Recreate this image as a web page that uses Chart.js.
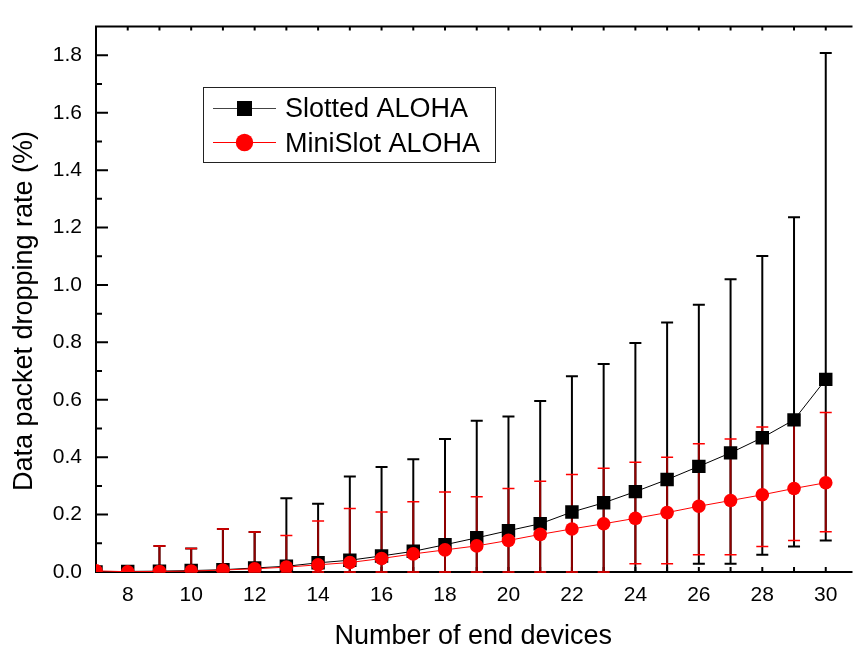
<!DOCTYPE html>
<html>
<head>
<meta charset="utf-8">
<script src="https://cdn.jsdelivr.net/npm/chart.js@4.4.1/dist/chart.umd.min.js"></script>
<style>
  html, body { margin: 0; padding: 0; background: #fff; }
  #wrap { width: 857px; height: 651px; overflow: hidden; }
  canvas { display: block; }
</style>
</head>
<body>
<div id="wrap"><canvas id="chart" width="860" height="651"></canvas></div>
<script>
// ---- data ----
const devices = [7, 8, 9, 10, 11, 12, 13, 14, 15, 16, 17, 18, 19, 20, 21, 22, 23, 24, 25, 26, 27, 28, 29, 30];

const slottedMean = [0.0, 0.002, 0.003, 0.005, 0.008, 0.014, 0.02, 0.032, 0.041, 0.056, 0.072, 0.095,
  0.119, 0.144, 0.168, 0.209, 0.241, 0.280, 0.322, 0.368, 0.415, 0.468, 0.530, 0.671];
const slottedHigh = [null, null, 0.091, 0.082, 0.150, 0.139, 0.257, 0.238, 0.333, 0.366, 0.393, 0.463,
  0.527, 0.542, 0.596, 0.682, 0.725, 0.798, 0.869, 0.931, 1.020, 1.101, 1.236, 1.808];
const slottedLow = [null, null, 0, 0, 0, 0, 0, 0, 0, 0, 0, 0,
  0, 0, 0, 0, 0, 0, 0, 0.029, 0.029, 0.060, 0.089, 0.110];

const miniMean = [0.004, 0.001, 0.002, 0.003, 0.007, 0.011, 0.017, 0.025, 0.033, 0.047, 0.063, 0.077,
  0.091, 0.110, 0.131, 0.150, 0.168, 0.187, 0.207, 0.229, 0.249, 0.269, 0.291, 0.311];
const miniHigh = [null, null, 0.091, 0.082, 0.150, 0.139, 0.127, 0.178, 0.221, 0.209, 0.245, 0.279,
  0.262, 0.291, 0.316, 0.340, 0.361, 0.382, 0.400, 0.447, 0.463, 0.505, 0.525, 0.556];
const miniLow = [null, null, 0, 0, 0, 0, 0, 0, 0, 0, 0, 0,
  0, 0, 0, 0, 0, 0.029, 0.029, 0.060, 0.060, 0.089, 0.110, 0.140];

const xTicks = [8, 10, 12, 14, 16, 18, 20, 22, 24, 26, 28, 30];
const yTicks = [0, 0.2, 0.4, 0.6, 0.8, 1.0, 1.2, 1.4, 1.6, 1.8];
const seriesNames = ['Slotted ALOHA', 'MiniSlot ALOHA'];
const yTitle = 'Data packet dropping rate (%)';
const xTitle = 'Number of end devices';

const FONT = "'Liberation Sans', Arial, sans-serif";
Chart.defaults.font.family = FONT;
Chart.defaults.color = '#000';

// frame + inward ticks, drawn before the data
const frame = {
  id: 'frame',
  beforeDatasetsDraw(chart) {
    const { ctx, chartArea: a, scales: { x, y } } = chart;
    ctx.save();
    ctx.strokeStyle = '#000';
    ctx.lineWidth = 2;
    ctx.beginPath();
    ctx.moveTo(a.left, a.top); ctx.lineTo(a.right + 2, a.top);
    ctx.moveTo(a.left, a.top - 1); ctx.lineTo(a.left, a.bottom + 1);
    ctx.moveTo(a.left - 1, a.bottom); ctx.lineTo(a.right + 2, a.bottom);
    // y ticks: major every 0.2, minor every 0.1
    for (let k = 1; k <= 18; k++) {
      const py = y.getPixelForValue(k / 10);
      const len = k % 2 === 0 ? 12 : 6;
      ctx.moveTo(a.left, py); ctx.lineTo(a.left + len, py);
    }
    // x ticks top and bottom, every device count
    for (let v = 8; v <= 30; v++) {
      const px = x.getPixelForValue(v);
      ctx.moveTo(px, a.bottom); ctx.lineTo(px, a.bottom - 5);
      ctx.moveTo(px, a.top); ctx.lineTo(px, a.top + 4);
    }
    ctx.stroke();
    ctx.restore();
  }
};

// asymmetric error bars taken from low/high arrays on each dataset
const errorBars = {
  id: 'errorBars',
  beforeDatasetsDraw(chart) {
    const { ctx, scales: { x, y } } = chart;
    ctx.save();
    ['slotted', 'mini'].forEach(key => {
      const ds = chart.data.datasets.find(d => d.key === key);
      ds.low.forEach((lo, i) => {
        const hi = ds.high[i];
        if (lo == null || hi == null) return;
        const px = x.getPixelForValue(devices[i]);
        const y1 = y.getPixelForValue(lo);
        const y2 = y.getPixelForValue(hi);
        ctx.strokeStyle = ds.stemColor;
        ctx.lineWidth = 2;
        ctx.beginPath();
        ctx.moveTo(px, y1); ctx.lineTo(px, y2);
        ctx.stroke();
        ctx.strokeStyle = ds.capColor;
        ctx.lineWidth = ds.capWidth;
        ctx.beginPath();
        ctx.moveTo(px - 6, y1); ctx.lineTo(px + 6, y1);
        ctx.moveTo(px - 6, y2); ctx.lineTo(px + 6, y2);
        ctx.stroke();
      });
    });
    ctx.restore();
  }
};

// rotated y title and boxed legend
const decor = {
  id: 'decor',
  afterDraw(chart) {
    const { ctx } = chart;
    ctx.save();
    ctx.fillStyle = '#000';
    ctx.font = '27px ' + FONT;
    ctx.translate(32, 311);
    ctx.rotate(-Math.PI / 2);
    ctx.textAlign = 'center';
    ctx.textBaseline = 'alphabetic';
    ctx.fillText(yTitle, 0, 0);
    ctx.restore();

    ctx.save();
    ctx.strokeStyle = '#222';
    ctx.lineWidth = 1;
    ctx.strokeRect(203.5, 87.5, 292, 75);
    // entry 1
    ctx.strokeStyle = '#444';
    ctx.beginPath(); ctx.moveTo(213, 108.5); ctx.lineTo(276, 108.5); ctx.stroke();
    ctx.fillStyle = '#000';
    ctx.fillRect(237, 101, 15, 15);
    // entry 2
    ctx.strokeStyle = '#ff0000';
    ctx.beginPath(); ctx.moveTo(213, 142.5); ctx.lineTo(276, 142.5); ctx.stroke();
    ctx.fillStyle = '#ff0000';
    ctx.beginPath(); ctx.arc(244.5, 142.5, 8.7, 0, Math.PI * 2); ctx.fill();
    ctx.fillStyle = '#000';
    ctx.font = '27px ' + FONT;
    ctx.textAlign = 'left';
    ctx.textBaseline = 'alphabetic';
    ctx.fillText(seriesNames[0], 285, 116.5);
    ctx.fillText(seriesNames[1], 285, 151.5);
    ctx.restore();
  }
};

new Chart(document.getElementById('chart'), {
  type: 'line',
  data: {
    datasets: [
      {
        key: 'slotted', label: seriesNames[0], order: 2,
        data: devices.map((d, i) => ({ x: d, y: slottedMean[i] })),
        low: slottedLow, high: slottedHigh,
        stemColor: '#000', capColor: '#000', capWidth: 2,
        borderColor: '#000', borderWidth: 1,
        pointStyle: 'rect', pointRadius: 9.5, pointBackgroundColor: '#000', pointBorderWidth: 0,
        clip: 0
      },
      {
        key: 'mini', label: seriesNames[1], order: 1,
        data: devices.map((d, i) => ({ x: d, y: miniMean[i] })),
        low: miniLow, high: miniHigh,
        stemColor: '#8f0000', capColor: '#ff0000', capWidth: 1.5,
        borderColor: '#ff0000', borderWidth: 1,
        pointStyle: 'circle', pointRadius: 6.8, pointBackgroundColor: '#ff0000', pointBorderWidth: 0,
        clip: 0
      }
    ]
  },
  options: {
    responsive: false,
    animation: false,
    layout: { padding: { left: 0, right: 1, top: 8, bottom: 0 } },
    plugins: { legend: { display: false }, tooltip: { enabled: false } },
    elements: { line: { tension: 0 } },
    scales: {
      x: {
        type: 'linear', min: 7, max: 30.78,
        grid: { display: false, drawTicks: false },
        border: { display: false },
        afterBuildTicks: s => { s.ticks = xTicks.map(v => ({ value: v })); },
        afterFit: s => { s.height = 79; },
        ticks: { padding: 11, font: { size: 21 }, color: '#000', maxRotation: 0 },
        title: { display: true, text: xTitle, font: { size: 27 }, color: '#000', padding: { top: 0, bottom: -2 } }
      },
      y: {
        min: 0, max: 1.9,
        grid: { display: false, drawTicks: false },
        border: { display: false },
        afterBuildTicks: s => { s.ticks = yTicks.map(v => ({ value: v })); },
        afterFit: s => { s.width = 96; },
        ticks: { padding: 14, font: { size: 21 }, color: '#000', callback: v => v.toFixed(1) }
      }
    }
  },
  plugins: [frame, errorBars, decor]
});
</script>
</body>
</html>
